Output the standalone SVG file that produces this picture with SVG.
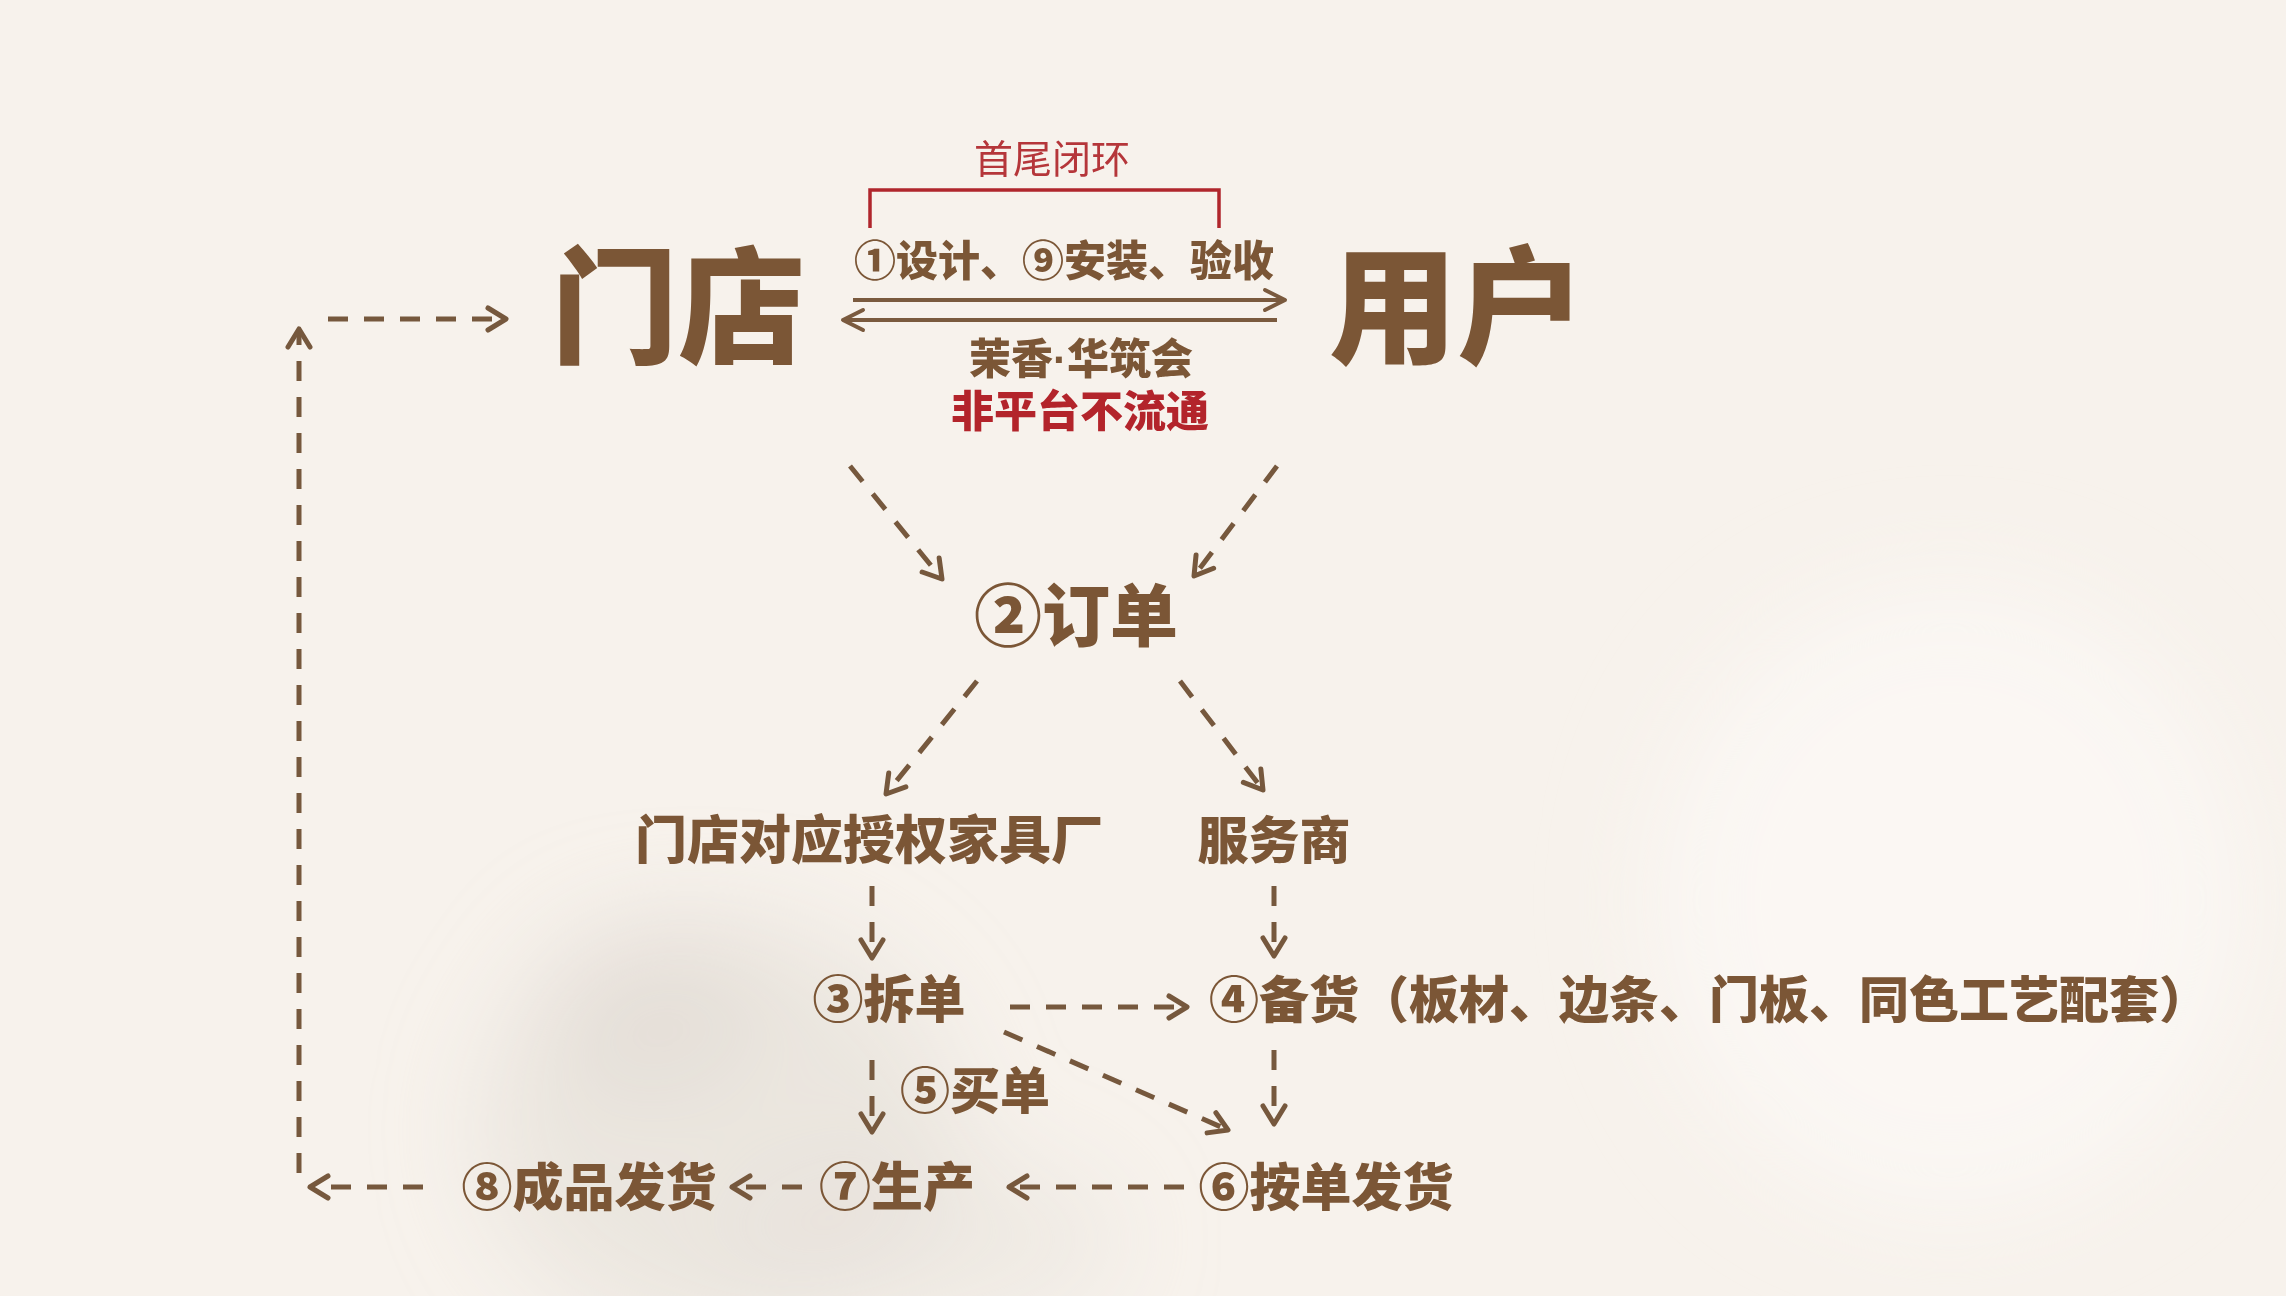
<svg xmlns="http://www.w3.org/2000/svg" width="2286" height="1296" viewBox="0 0 2286 1296">
  <defs>
    <style>
      .t { font-family: "Noto Sans CJK SC", "Noto Sans", sans-serif; font-weight: 900; fill: #7b5636; text-anchor: middle; }
      .red { fill: #b3242b; }
      .thin { font-weight: 400; fill: #b5363a; }
      .dot { font-family: "Liberation Sans", sans-serif; font-weight: 700; }
      .dash { fill: none; stroke: #76583d; stroke-width: 5; stroke-dasharray: 20 16; marker-end: url(#chev); }
      .solid { fill: none; stroke: #7a5a3e; stroke-width: 4; marker-end: url(#chev2); }
    </style>
    <marker id="chev" markerUnits="userSpaceOnUse" markerWidth="32" markerHeight="32" viewBox="0 0 32 32" refX="27" refY="16" orient="auto">
      <path d="M9,5 L27,16 L9,27" fill="none" stroke="#76583d" stroke-width="5" stroke-dasharray="none" stroke-linecap="round" stroke-linejoin="round"/>
    </marker>
    <marker id="chev2" markerUnits="userSpaceOnUse" markerWidth="32" markerHeight="32" viewBox="0 0 32 32" refX="28" refY="16" orient="auto">
      <path d="M8,6 L28,16 L8,26" fill="none" stroke="#7a5a3e" stroke-width="4" stroke-linecap="round" stroke-linejoin="round"/>
    </marker>
    <filter id="blur" x="-50%" y="-50%" width="200%" height="200%">
      <feGaussianBlur stdDeviation="50"/>
    </filter>
  </defs>

  <rect x="0" y="0" width="2286" height="1296" fill="#f7f2ec"/>
  <g id="watermark" filter="url(#blur)">
    <ellipse cx="720" cy="1130" rx="240" ry="210" fill="#e2dcd6" opacity="0.55"/>
    <ellipse cx="650" cy="1010" rx="110" ry="90" fill="#dcd5ce" opacity="0.4"/>
    <ellipse cx="920" cy="1240" rx="200" ry="90" fill="#e5dfd9" opacity="0.45"/>
    <ellipse cx="1950" cy="900" rx="300" ry="320" fill="#fbf8f5" opacity="0.8"/>
  </g>

  <g id="connectors">
    <path id="bracket" d="M870,228 L870,190 L1219,190 L1219,228" fill="none" stroke="#b0262c" stroke-width="3.5"/>
    <path class="solid" d="M853,300 L1285,300"/>
    <path class="solid" d="M1277,320 L843,320"/>
    <path class="dash" d="M328,319 L506,319"/>
    <path class="dash" d="M299,1173 L299,329"/>
    <path class="dash" d="M423,1187 L310,1187"/>
    <path class="dash" d="M850,466 L942,579"/>
    <path class="dash" d="M1277,466 L1194,576"/>
    <path class="dash" d="M977,681 L886,794"/>
    <path class="dash" d="M1180,681 L1263,790"/>
    <path class="dash" d="M872,886 L872,958"/>
    <path class="dash" d="M1274,886 L1274,956"/>
    <path class="dash" d="M1010,1007 L1187,1007"/>
    <path class="dash" d="M1004,1032 L1228,1130"/>
    <path class="dash" d="M1274,1050 L1274,1124"/>
    <path class="dash" d="M872,1060 L872,1132"/>
    <path class="dash" d="M1184,1187 L1009,1187"/>
    <path class="dash" d="M802,1187 L732,1187"/>
  </g>

  <g id="store"><text class="t" x="678" y="354" font-size="127">门店</text></g>
  <g id="user"><text class="t" x="1457" y="354" font-size="128">用户</text></g>
  <g id="loop-label"><text class="t thin" x="1052" y="173" font-size="39">首尾闭环</text></g>
  <g id="design-label"><text class="t" x="1064" y="276" font-size="42">①设计、⑨安装、验收</text></g>
  <g id="platform-label">
    <text class="t" x="1081" y="374" font-size="42">茉香<tspan class="dot">·</tspan>华筑会</text>
    <text class="t red" x="1080" y="427" font-size="43">非平台不流通</text>
  </g>
  <g id="order"><text class="t" x="1076" y="641" font-size="68">②订单</text></g>
  <g id="factory"><text class="t" x="869" y="859" font-size="52">门店对应授权家具厂</text></g>
  <g id="provider"><text class="t" x="1274" y="859" font-size="51">服务商</text></g>
  <g id="split"><text class="t" x="889" y="1018" font-size="51">③拆单</text></g>
  <g id="stock"><text class="t" x="1209" y="1018" font-size="50" style="text-anchor:start">④备货（板材、边条、门板、同色工艺配套）</text></g>
  <g id="buy"><text class="t" x="975" y="1109" font-size="50">⑤买单</text></g>
  <g id="ship-order"><text class="t" x="1326" y="1206" font-size="51">⑥按单发货</text></g>
  <g id="produce"><text class="t" x="897" y="1206" font-size="52">⑦生产</text></g>
  <g id="ship-product"><text class="t" x="589" y="1206" font-size="51">⑧成品发货</text></g>
</svg>
